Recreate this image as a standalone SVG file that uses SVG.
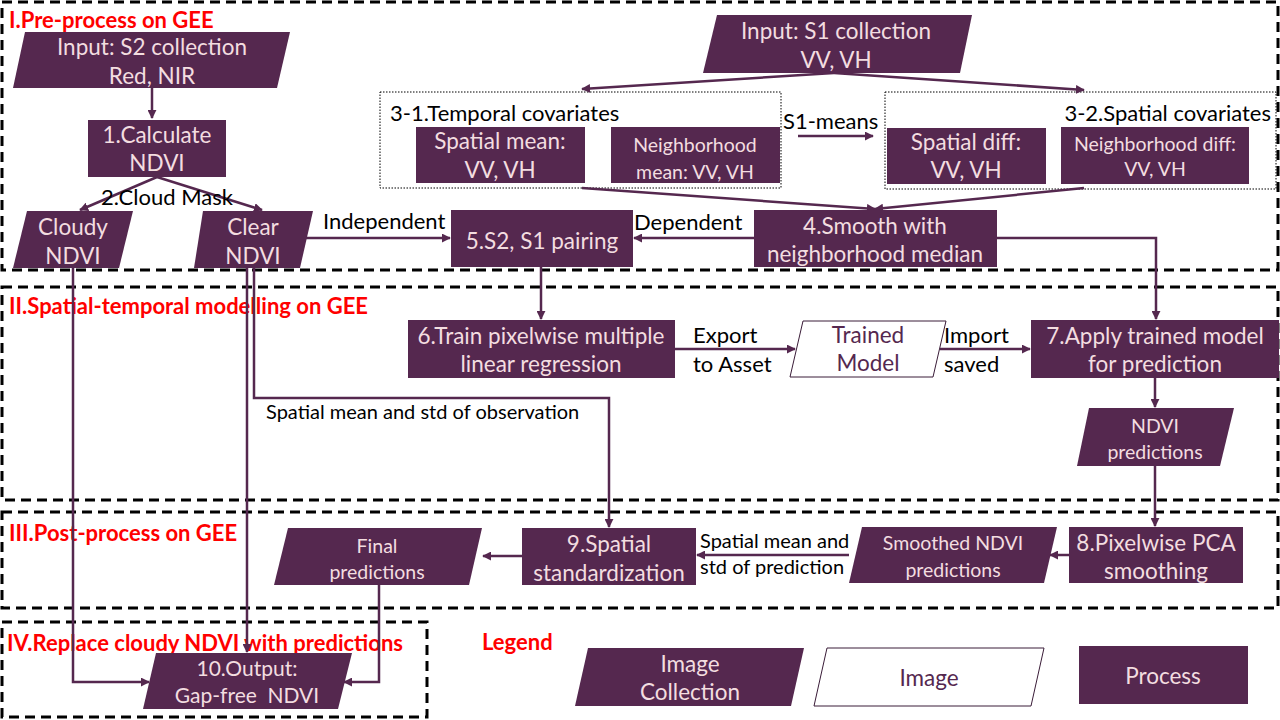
<svg xmlns="http://www.w3.org/2000/svg" width="1280" height="720" viewBox="0 0 1280 720">
<defs>
<style>
.n{fill:#55284F}
.w{fill:#fff;stroke:#3A1C38;stroke-width:1}
.t{font-family:Lato,"Liberation Sans",sans-serif;fill:#F3DDE0;text-anchor:middle;dominant-baseline:central;font-size:22.5px}
.ts{font-size:19.5px}
.tp{fill:#55284F}
.l{font-family:Lato,"Liberation Sans",sans-serif;fill:#000;dominant-baseline:central;font-size:22px}
.sm{font-size:20px}
.sec{font-family:Lato,"Liberation Sans",sans-serif;fill:#FF0000;font-weight:bold;font-size:22px;dominant-baseline:central}
.sb{fill:none;stroke:#000;stroke-width:3;stroke-dasharray:10 6}
.db{fill:none;stroke:#000;stroke-width:1;stroke-dasharray:1.5 1.5}
.c{fill:none;stroke:#55284F;stroke-width:2.5}
</style>
<marker id="a" viewBox="0 0 10 10" refX="9" refY="5" markerWidth="9" markerHeight="9" markerUnits="userSpaceOnUse" orient="auto">
<path d="M0,0 L10,5 L0,10 z" fill="#55284F"/>
</marker>
</defs>
<rect width="1280" height="720" fill="#fff"/>

<g id="sections">
<rect class="sb" x="2" y="2" width="1276" height="268"/>
<rect class="sb" x="2" y="287" width="1276" height="213"/>
<rect class="sb" x="2" y="512" width="1276" height="96"/>
<rect class="sb" x="2" y="622" width="425" height="95"/>
<text class="sec" x="9" y="19">I.Pre-process on GEE</text>
<text class="sec" x="9" y="305">II.Spatial-temporal modelling on GEE</text>
<text class="sec" x="9" y="532">III.Post-process on GEE</text>
<text class="sec" x="7" y="642">IV.Replace cloudy NDVI with predictions</text>
<text class="sec" x="482" y="641">Legend</text>
</g>

<g id="covariate-groups">
<rect class="db" x="380" y="92" width="401" height="96"/>
<rect class="db" x="885" y="92" width="391" height="97"/>
<text class="l" x="390" y="112">3-1.Temporal covariates</text>
<text class="l" x="1271" y="112" text-anchor="end">3-2.Spatial covariates</text>
</g>

<g id="connectors">
<path class="c" d="M152,88 V118" marker-end="url(#a)"/>
<path class="c" d="M157,177 L80,210" marker-end="url(#a)"/>
<path class="c" d="M157,177 L262,210" marker-end="url(#a)"/>
<path class="c" d="M306,238 H450" marker-end="url(#a)"/>
<path class="c" d="M834,73 L582,89" marker-end="url(#a)"/>
<path class="c" d="M834,73 L1084,90" marker-end="url(#a)"/>
<path class="c" d="M798,136 H873" marker-end="url(#a)"/>
<path class="c" d="M582,188 L875,209" marker-end="url(#a)"/>
<path class="c" d="M1084,188 L875,209" marker-end="url(#a)"/>
<path class="c" d="M754,238 H634" marker-end="url(#a)"/>
<path class="c" d="M997,238 H1156 V319" marker-end="url(#a)"/>
<path class="c" d="M541,267 V319" marker-end="url(#a)"/>
<path class="c" d="M675,349 H795" marker-end="url(#a)"/>
<path class="c" d="M940,349 H1030" marker-end="url(#a)"/>
<path class="c" d="M1155,378 V407" marker-end="url(#a)"/>
<path class="c" d="M1155,466 V526" marker-end="url(#a)"/>
<path class="c" d="M1069,555 H1050" marker-end="url(#a)"/>
<path class="c" d="M849,555 H697" marker-end="url(#a)"/>
<path class="c" d="M522,556 H483" marker-end="url(#a)"/>
<path class="c" d="M254,268 V398 H609 V527" marker-end="url(#a)"/>
<path class="c" d="M247,268 V652" marker-end="url(#a)"/>
<path class="c" d="M73,268 V682 H149" marker-end="url(#a)"/>
<path class="c" d="M379,585 V682 H344" marker-end="url(#a)"/>
<text class="l" x="167" y="196" text-anchor="middle">2.Cloud Mask</text>
<text class="l" x="323" y="220">Independent</text>
<text class="l" x="634" y="221">Dependent</text>
<text class="l" x="783" y="120">S1-means</text>
<text class="l" x="693" y="334">Export</text>
<text class="l" x="693" y="363">to Asset</text>
<text class="l" x="944" y="334">Import</text>
<text class="l" x="944" y="363">saved</text>
<text class="l sm" x="266" y="411">Spatial mean and std of observation</text>
<text class="l sm" x="700" y="540">Spatial mean and</text>
<text class="l sm" x="700" y="566">std of prediction</text>
</g>

<g id="n-s2">
<polygon class="n" points="25,32 290,32 277,88 13,88"/>
<text class="t" x="152" y="46">Input: S2 collection</text>
<text class="t" x="152" y="75">Red, NIR</text>
</g>
<g id="n1">
<rect class="n" x="88" y="120" width="138" height="57"/>
<text class="t" x="157" y="134">1.Calculate</text>
<text class="t" x="157" y="162">NDVI</text>
</g>
<g id="n-cloudy">
<polygon class="n" points="27,211 133,211 119,268 13,268"/>
<text class="t" x="73" y="226">Cloudy</text>
<text class="t" x="73" y="255">NDVI</text>
</g>
<g id="n-clear">
<polygon class="n" points="203,211 313,211 300,268 194,268"/>
<text class="t" x="253" y="226">Clear</text>
<text class="t" x="253" y="255">NDVI</text>
</g>
<g id="n-s1">
<polygon class="n" points="717,15 972,15 960,73 703,73"/>
<text class="t" x="836" y="30">Input: S1 collection</text>
<text class="t" x="836" y="59">VV, VH</text>
</g>
<g id="n-spatial-mean">
<rect class="n" x="416" y="127" width="169" height="56"/>
<text class="t" x="500" y="140">Spatial mean:</text>
<text class="t" x="500" y="169">VV, VH</text>
</g>
<g id="n-neigh-mean">
<rect class="n" x="611" y="127" width="169" height="56"/>
<text class="t ts" x="695" y="144">Neighborhood</text>
<text class="t ts" x="695" y="171">mean: VV, VH</text>
</g>
<g id="n-spatial-diff">
<rect class="n" x="887" y="128" width="159" height="56"/>
<text class="t" x="966" y="141">Spatial diff:</text>
<text class="t" x="966" y="169">VV, VH</text>
</g>
<g id="n-neigh-diff">
<rect class="n" x="1061" y="127" width="188" height="57"/>
<text class="t ts" x="1155" y="143">Neighborhood diff:</text>
<text class="t ts" x="1155" y="168">VV, VH</text>
</g>
<g id="n4">
<rect class="n" x="754" y="210" width="243" height="57"/>
<text class="t" x="875" y="225">4.Smooth with</text>
<text class="t" x="875" y="253">neighborhood median</text>
</g>
<g id="n5">
<rect class="n" x="451" y="210" width="182" height="57"/>
<text class="t" x="542" y="240">5.S2, S1 pairing</text>
</g>
<g id="n6">
<rect class="n" x="408" y="320" width="267" height="58"/>
<text class="t" x="541" y="335">6.Train pixelwise multiple</text>
<text class="t" x="541" y="363">linear regression</text>
</g>
<g id="n-trained">
<polygon class="w" points="803,321 946,321 933,377 790,377"/>
<text class="t tp" x="868" y="334">Trained</text>
<text class="t tp" x="868" y="362">Model</text>
</g>
<g id="n7">
<rect class="n" x="1031" y="320" width="248" height="58"/>
<text class="t" x="1155" y="335">7.Apply trained model</text>
<text class="t" x="1155" y="363">for prediction</text>
</g>
<g id="n-ndvi-pred">
<polygon class="n" points="1089,408 1234,408 1220,466 1077,466"/>
<text class="t ts" x="1155" y="425">NDVI</text>
<text class="t ts" x="1155" y="451">predictions</text>
</g>
<g id="n8">
<rect class="n" x="1069" y="527" width="174" height="56"/>
<text class="t" x="1156" y="542">8.Pixelwise PCA</text>
<text class="t" x="1156" y="570">smoothing</text>
</g>
<g id="n-smoothed">
<polygon class="n" points="862,527 1057,527 1044,583 849,583"/>
<text class="t ts" x="953" y="542">Smoothed NDVI</text>
<text class="t ts" x="953" y="569">predictions</text>
</g>
<g id="n9">
<rect class="n" x="522" y="528" width="174" height="57"/>
<text class="t" x="609" y="543">9.Spatial</text>
<text class="t" x="609" y="572">standardization</text>
</g>
<g id="n-final">
<polygon class="n" points="288,528 482,528 469,585 274,585"/>
<text class="t ts" x="377" y="545">Final</text>
<text class="t ts" x="377" y="571">predictions</text>
</g>
<g id="n10">
<polygon class="n" points="156,653 352,653 338,709 143,709"/>
<text class="t" x="247" y="667" style="font-size:21px">10.Output:</text>
<text class="t" x="247" y="694" style="font-size:21px" xml:space="preserve">Gap-free  NDVI</text>
</g>

<g id="legend-collection">
<polygon class="n" points="588,648 804,648 791,706 575,706"/>
<text class="t" x="690" y="663">Image</text>
<text class="t" x="690" y="691">Collection</text>
</g>
<g id="legend-image">
<polygon class="w" points="827,648 1044,648 1031,706 814,706"/>
<text class="t tp" x="929" y="677">Image</text>
</g>
<g id="legend-process">
<rect class="n" x="1079" y="646" width="169" height="58"/>
<text class="t" x="1163" y="675">Process</text>
</g>
</svg>
